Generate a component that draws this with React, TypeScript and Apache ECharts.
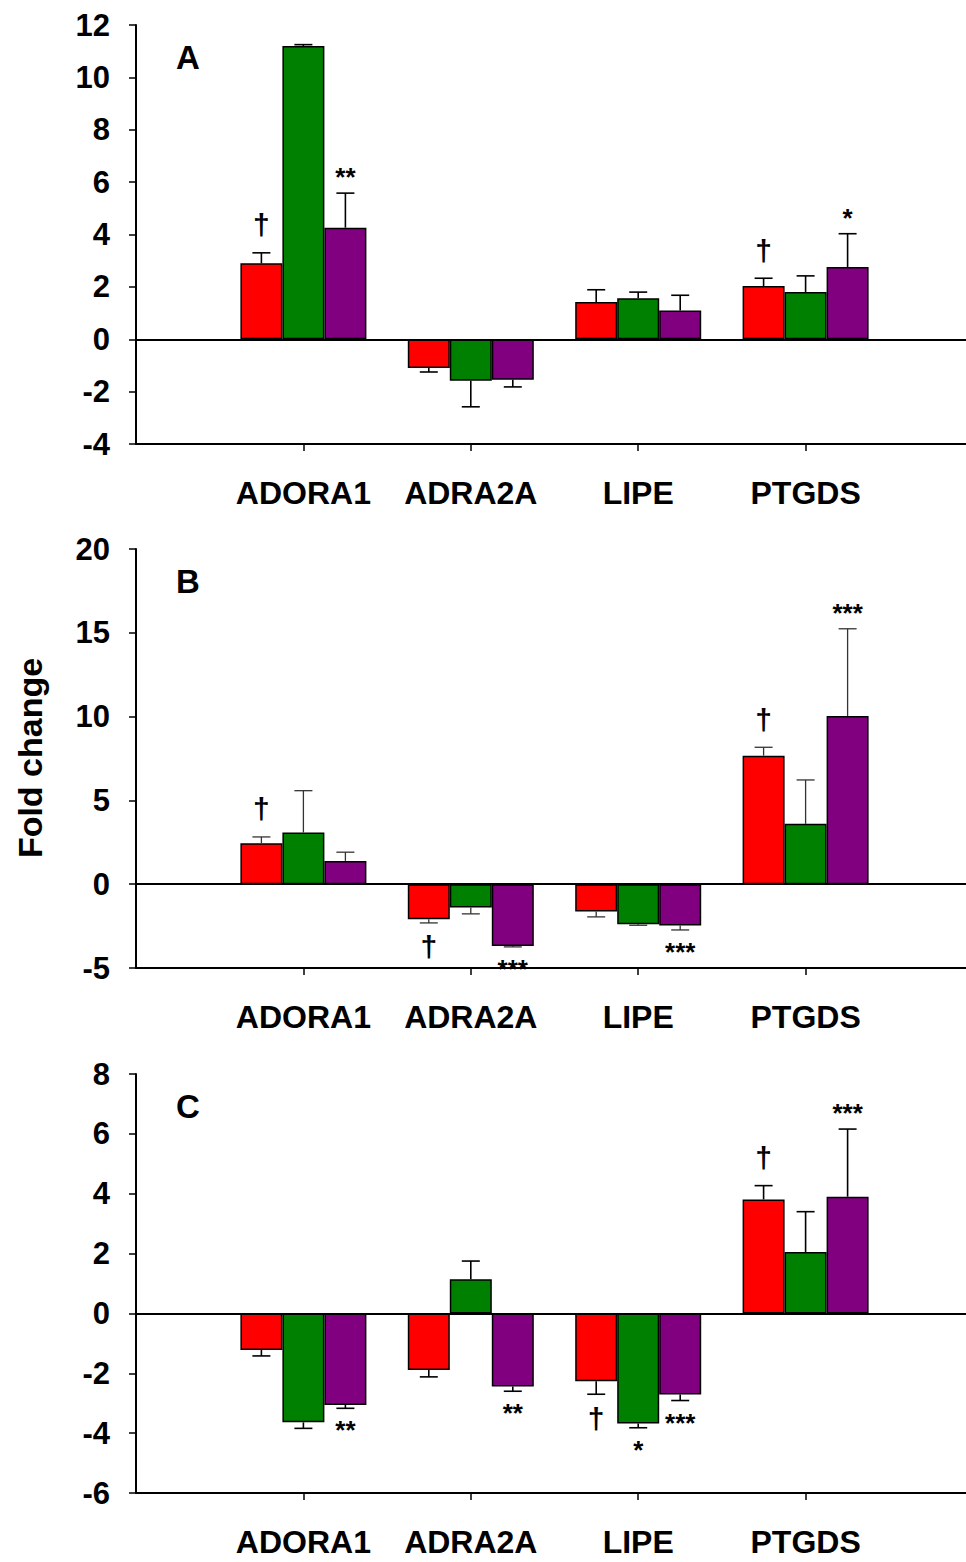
import React, { useEffect, useRef } from "react";
import * as echarts from "echarts";

const GENES = ["ADORA1", "ADRA2A", "LIPE", "PTGDS"];
const SERIES_NAMES = ["Red", "Green", "Purple"];
const COLORS = ["#FF0000", "#008000", "#800080"];

// Panel A
const A_RED = [2.9, -1.1, 1.42, 2.03];
const A_RED_ERR = [0.4, 0.15, 0.47, 0.3];
const A_GREEN = [11.2, -1.58, 1.57, 1.8];
const A_GREEN_ERR = [0.05, 1.0, 0.23, 0.62];
const A_PURPLE = [4.26, -1.55, 1.1, 2.76];
const A_PURPLE_ERR = [1.32, 0.27, 0.58, 1.27];
const A_RED_SIG = ["†", "", "", "†"];
const A_GREEN_SIG = ["", "", "", ""];
const A_PURPLE_SIG = ["**", "", "", "*"];
const A_TICKS = { min: -4, max: 12, interval: 2 };

// Panel B
const B_RED = [2.45, -2.09, -1.63, 7.67];
const B_RED_ERR = [0.37, 0.22, 0.32, 0.5];
const B_GREEN = [3.08, -1.39, -2.39, 3.6];
const B_GREEN_ERR = [2.5, 0.38, 0.06, 2.62];
const B_PURPLE = [1.39, -3.68, -2.47, 10.04];
const B_PURPLE_ERR = [0.52, 0.06, 0.26, 5.2];
const B_RED_SIG = ["†", "†", "", "†"];
const B_GREEN_SIG = ["", "", "", ""];
const B_PURPLE_SIG = ["", "***", "***", "***"];
const B_TICKS = { min: -5, max: 20, interval: 5 };

// Panel C
const C_RED = [-1.22, -1.89, -2.27, 3.81];
const C_RED_ERR = [0.2, 0.23, 0.43, 0.46];
const C_GREEN = [-3.64, 1.14, -3.68, 2.05];
const C_GREEN_ERR = [0.2, 0.61, 0.14, 1.35];
const C_PURPLE = [-3.06, -2.44, -2.71, 3.9];
const C_PURPLE_ERR = [0.11, 0.16, 0.2, 2.26];
const C_RED_SIG = ["", "", "†", "†"];
const C_GREEN_SIG = ["", "", "*", ""];
const C_PURPLE_SIG = ["**", "**", "***", "***"];
const C_TICKS = { min: -6, max: 8, interval: 2 };

const PANEL_LABELS = ["A", "B", "C"];
const Y_TITLE = "Fold change";

const FONT = "'Liberation Sans', Arial, sans-serif";

const panels = [
  {
    vals: [A_RED, A_GREEN, A_PURPLE],
    errs: [A_RED_ERR, A_GREEN_ERR, A_PURPLE_ERR],
    sigs: [A_RED_SIG, A_GREEN_SIG, A_PURPLE_SIG],
    ticks: A_TICKS,
    errColor: "#000",
    errWidth: 1.6,
  },
  {
    vals: [B_RED, B_GREEN, B_PURPLE],
    errs: [B_RED_ERR, B_GREEN_ERR, B_PURPLE_ERR],
    sigs: [B_RED_SIG, B_GREEN_SIG, B_PURPLE_SIG],
    ticks: B_TICKS,
    errColor: "#333",
    errWidth: 1.3,
  },
  {
    vals: [C_RED, C_GREEN, C_PURPLE],
    errs: [C_RED_ERR, C_GREEN_ERR, C_PURPLE_ERR],
    sigs: [C_RED_SIG, C_GREEN_SIG, C_PURPLE_SIG],
    ticks: C_TICKS,
    errColor: "#000",
    errWidth: 1.6,
  },
];

const GRID_TOPS = [25, 549, 1074];
const GRID_H = 419;
const GRID_LEFT = 136;
const GRID_W = 840;
const CHART_W = GRID_LEFT + GRID_W;
const BAR_W = 42;

function buildOption() {
  const axisCats = ["", ...GENES, ""];
  const grid: any[] = [];
  const xAxis: any[] = [];
  const yAxis: any[] = [];
  const series: any[] = [];
  const graphic: any[] = [];

  panels.forEach((p, pi) => {
    grid.push({ left: GRID_LEFT, top: GRID_TOPS[pi], width: GRID_W, height: GRID_H });
    xAxis.push({
      type: "category",
      gridIndex: pi,
      data: axisCats,
      boundaryGap: false,
      axisLine: { show: true, onZero: false, lineStyle: { color: "#000", width: 2 } },
      axisTick: {
        show: true,
        inside: false,
        length: 7,
        interval: (idx: number) => idx > 0 && idx < axisCats.length - 1,
        lineStyle: { color: "#000", width: 1.5 },
      },
      axisLabel: {
        interval: 0,
        margin: 33,
        color: "#000",
        fontFamily: FONT,
        fontWeight: "bold",
        fontSize: 32,
      },
      splitLine: { show: false },
    });
    yAxis.push({
      type: "value",
      gridIndex: pi,
      min: p.ticks.min,
      max: p.ticks.max,
      interval: p.ticks.interval,
      axisLine: { show: true, lineStyle: { color: "#000", width: 2 } },
      axisTick: { show: true, inside: false, length: 7, lineStyle: { color: "#000", width: 1.5 } },
      axisLabel: {
        margin: 26,
        color: "#000",
        fontFamily: FONT,
        fontWeight: "bold",
        fontSize: 31,
      },
      splitLine: { show: false },
    });

    p.vals.forEach((vals, si) => {
      series.push({
        type: "bar",
        name: SERIES_NAMES[si],
        xAxisIndex: pi,
        yAxisIndex: pi,
        barWidth: BAR_W,
        barGap: "0%",
        data: ["-", ...vals, "-"],
        itemStyle: { color: COLORS[si], borderColor: "#000", borderWidth: 1.5 },
        z: 2,
        markLine:
          si === 0
            ? {
                silent: true,
                symbol: ["none", "none"],
                label: { show: false },
                lineStyle: { color: "#000", width: 1.8, type: "solid" },
                data: [{ yAxis: 0 }],
                z: 5,
              }
            : undefined,
      });
    });

    p.vals.forEach((vals, si) => {
      const errs = p.errs[si];
      const sigs = p.sigs[si];
      const offset = (si - 1) * BAR_W;
      series.push({
        type: "custom",
        xAxisIndex: pi,
        yAxisIndex: pi,
        z: 6,
        clip: false,
        data: vals.map((v, i) => [i + 1, v, errs[i]]),
        renderItem: (params: any, api: any) => {
          const ci = api.value(0);
          const v = api.value(1);
          const e = api.value(2);
          const base = api.coord([ci, v]);
          const x = base[0] + offset;
          const y0 = base[1];
          const pos = v >= 0;
          const yEnd = api.coord([ci, pos ? v + e : v - e])[1];
          const ls = { stroke: p.errColor, lineWidth: p.errWidth };
          const children: any[] = [
            { type: "line", shape: { x1: x, y1: y0, x2: x, y2: yEnd }, style: ls },
            { type: "line", shape: { x1: x - 9, y1: yEnd, x2: x + 9, y2: yEnd }, style: ls },
          ];
          const sig = sigs[params.dataIndex];
          if (sig) {
            const isDagger = sig === "†";
            let ty;
            if (pos) ty = yEnd - (isDagger ? 28 : 16);
            else ty = yEnd + (isDagger ? 24 : 22);
            children.push({
              type: "text",
              style: {
                text: sig,
                x: x,
                y: ty,
                textAlign: "center",
                textVerticalAlign: "middle",
                fill: "#000",
                font: `bold ${isDagger ? 30 : 26}px ${FONT}`,
              },
            });
          }
          return { type: "group", children };
        },
      });
    });

    graphic.push({
      type: "text",
      x: 188,
      y: GRID_TOPS[pi] + 32,
      style: {
        text: PANEL_LABELS[pi],
        textAlign: "center",
        textVerticalAlign: "middle",
        fill: "#000",
        font: `bold 33px ${FONT}`,
      },
    });
  });

  graphic.push({
    type: "text",
    x: 30,
    y: 758,
    rotation: Math.PI / 2,
    style: {
      text: Y_TITLE,
      textAlign: "center",
      textVerticalAlign: "middle",
      fill: "#000",
      font: `bold 34px ${FONT}`,
    },
  });

  return {
    animation: false,
    backgroundColor: "#fff",
    grid,
    xAxis,
    yAxis,
    series,
    graphic,
  };
}

export default function App() {
  const ref = useRef<HTMLDivElement>(null);
  useEffect(() => {
    if (!ref.current) return;
    const chart = echarts.init(ref.current, undefined, { renderer: "svg" });
    chart.setOption(buildOption() as any);
    return () => chart.dispose();
  }, []);
  return (
    <div
      style={{
        position: "absolute",
        left: 0,
        top: 0,
        width: 966,
        height: 1562,
        overflow: "hidden",
        background: "#fff",
      }}
    >
      <div ref={ref} style={{ width: CHART_W, height: 1562 }} />
    </div>
  );
}
